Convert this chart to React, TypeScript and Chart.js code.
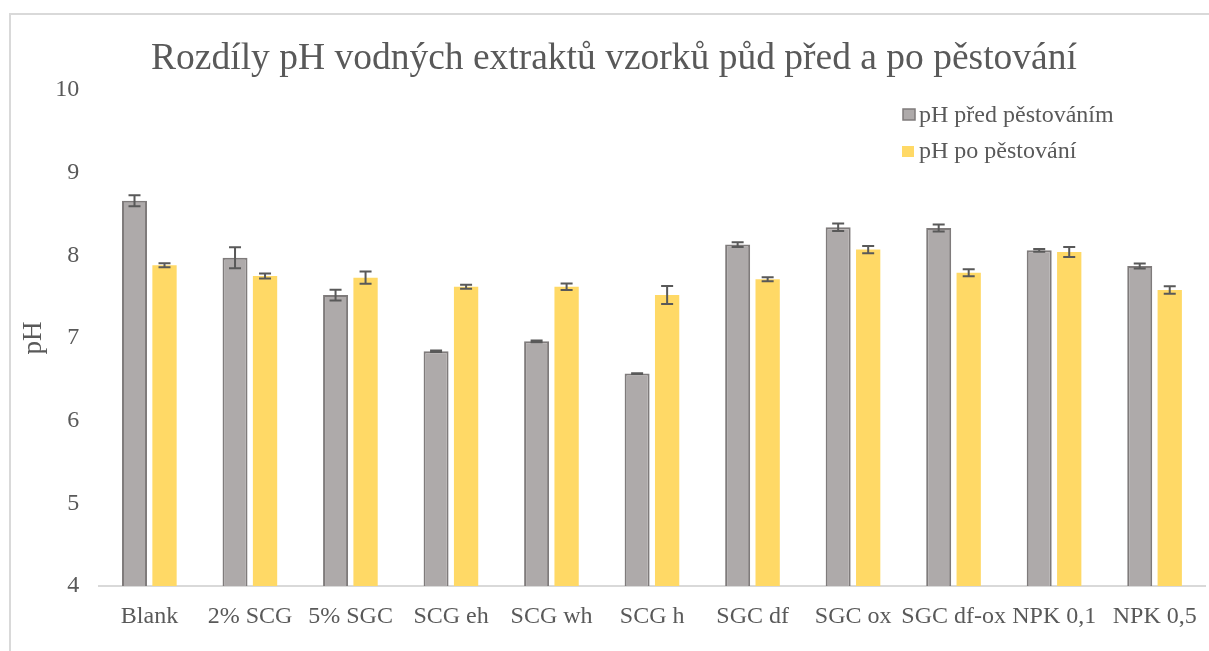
import React, { useEffect, useRef } from "react";
import { Chart, registerables } from "chart.js";

Chart.register(...registerables);

const titleText = "Rozdíly pH vodných extraktů vzorků půd před a po pěstování";
const yAxisTitle = "pH";
const categories = ["Blank", "2% SCG", "5% SGC", "SCG eh", "SCG wh", "SCG h", "SGC df", "SGC ox", "SGC df-ox", "NPK 0,1", "NPK 0,5"];
const seriesNames = ["pH před pěstováním", "pH po pěstování"];
const beforeValues = [8.66, 7.97, 7.52, 6.84, 6.96, 6.57, 8.13, 8.34, 8.33, 8.06, 7.87];
const beforeErrors = [0.067, 0.127, 0.065, 0.01, 0.01, 0.005, 0.028, 0.046, 0.042, 0.018, 0.03];
const afterValues = [7.88, 7.75, 7.73, 7.62, 7.62, 7.52, 7.71, 8.07, 7.79, 8.04, 7.58];
const afterErrors = [0.024, 0.03, 0.075, 0.024, 0.04, 0.11, 0.024, 0.044, 0.042, 0.06, 0.045];
const yTicks = [4, 5, 6, 7, 8, 9, 10];

const FONT = "'Liberation Serif', 'Times New Roman', serif";
const TEXT = "#595959";
const GREY = "#AEAAAA";
const GREY_BORDER = "#7F7B7B";
const YELLOW = "#FFD966";

const errorsBySeries = [beforeErrors, afterErrors];

const errorBarPlugin = {
  id: "errorBars",
  afterDatasetsDraw(chart: any) {
    const ctx = chart.ctx;
    const y = chart.scales.y;
    ctx.save();
    ctx.strokeStyle = "#595959";
    ctx.lineWidth = 2;
    chart.data.datasets.forEach((ds: any, di: number) => {
      const meta = chart.getDatasetMeta(di);
      meta.data.forEach((bar: any, i: number) => {
        const v = ds.data[i];
        const e = errorsBySeries[di][i];
        const x = bar.x;
        const yTop = y.getPixelForValue(v + e);
        const yBot = y.getPixelForValue(v - e);
        const half = 6;
        ctx.beginPath();
        ctx.moveTo(x, yTop);
        ctx.lineTo(x, yBot);
        ctx.moveTo(x - half, yTop);
        ctx.lineTo(x + half, yTop);
        ctx.moveTo(x - half, yBot);
        ctx.lineTo(x + half, yBot);
        ctx.stroke();
      });
    });
    ctx.restore();
  },
};

const titleLegendPlugin = {
  id: "titleLegend",
  afterDraw(chart: any) {
    const ctx = chart.ctx;
    ctx.save();
    ctx.fillStyle = TEXT;
    ctx.font = `37.5px ${FONT}`;
    ctx.textAlign = "center";
    ctx.textBaseline = "alphabetic";
    ctx.fillText(titleText, 614, 69);

    // legend
    ctx.font = `24px ${FONT}`;
    ctx.textAlign = "left";
    ctx.fillStyle = GREY;
    ctx.fillRect(903, 109, 12, 11);
    ctx.strokeStyle = GREY_BORDER;
    ctx.lineWidth = 1.5;
    ctx.strokeRect(903, 109, 12, 11);
    ctx.fillStyle = YELLOW;
    ctx.fillRect(902, 146, 12, 11);
    ctx.fillStyle = TEXT;
    ctx.fillText(chart.data.datasets[0].label, 919, 121.5);
    ctx.fillText(chart.data.datasets[1].label, 919, 158);
    ctx.restore();
  },
};

export default function App() {
  const ref = useRef<HTMLCanvasElement | null>(null);
  useEffect(() => {
    if (!ref.current) return;
    const chart = new Chart(ref.current, {
      type: "bar",
      data: {
        labels: categories,
        datasets: [
          {
            label: seriesNames[0],
            data: beforeValues,
            backgroundColor: GREY,
            borderColor: GREY_BORDER,
            borderWidth: 2,
            categoryPercentage: 0.597,
            barPercentage: 0.833,
          },
          {
            label: seriesNames[1],
            data: afterValues,
            backgroundColor: YELLOW,
            borderWidth: 0,
            categoryPercentage: 0.597,
            barPercentage: 0.81,
          },
        ],
      },
      options: {
        responsive: false,
        animation: false,
        devicePixelRatio: 1,
        layout: { padding: { top: 90, right: 4, left: 0, bottom: 0 } },
        plugins: {
          legend: { display: false },
          title: { display: false },
          tooltip: { enabled: false },
        },
        scales: {
          x: {
            grid: { display: true, color: "rgba(0,0,0,0)", drawTicks: false },
            border: { display: true, color: "#D9D9D9", width: 2 },
            ticks: {
              color: TEXT,
              font: { family: FONT, size: 24 },
              padding: 16,
              maxRotation: 0,
              autoSkip: false,
            },
            afterFit(scale: any) {
              scale.height = 65;
              scale.paddingLeft = 0;
              scale.paddingRight = 0;
            },
          },
          y: {
            min: yTicks[0],
            max: yTicks[yTicks.length - 1],
            grid: { display: false, drawTicks: false },
            border: { display: false },
            ticks: {
              stepSize: 1,
              color: TEXT,
              font: { family: FONT, size: 24 },
              padding: 20,
            },
            title: {
              display: true,
              text: yAxisTitle,
              color: TEXT,
              font: { family: FONT, size: 27 },
              padding: { top: 18, bottom: 0 },
            },
            afterFit(scale: any) {
              scale.width = 99.25;
            },
          },
        },
      },
      plugins: [errorBarPlugin, titleLegendPlugin],
    });
    return () => chart.destroy();
  }, []);

  return (
    <>
      <canvas
        ref={ref}
        width={1209}
        height={651}
        style={{ position: "fixed", left: 0, top: 0, width: 1209, height: 651, display: "block", background: "#fff" }}
      />
      <div
        style={{
          position: "fixed",
          left: 9,
          top: 13,
          width: 1210,
          height: 700,
          borderLeft: "2px solid #D9D9D9",
          borderTop: "2px solid #D9D9D9",
          pointerEvents: "none",
          boxSizing: "border-box",
        }}
      />
    </>
  );
}
